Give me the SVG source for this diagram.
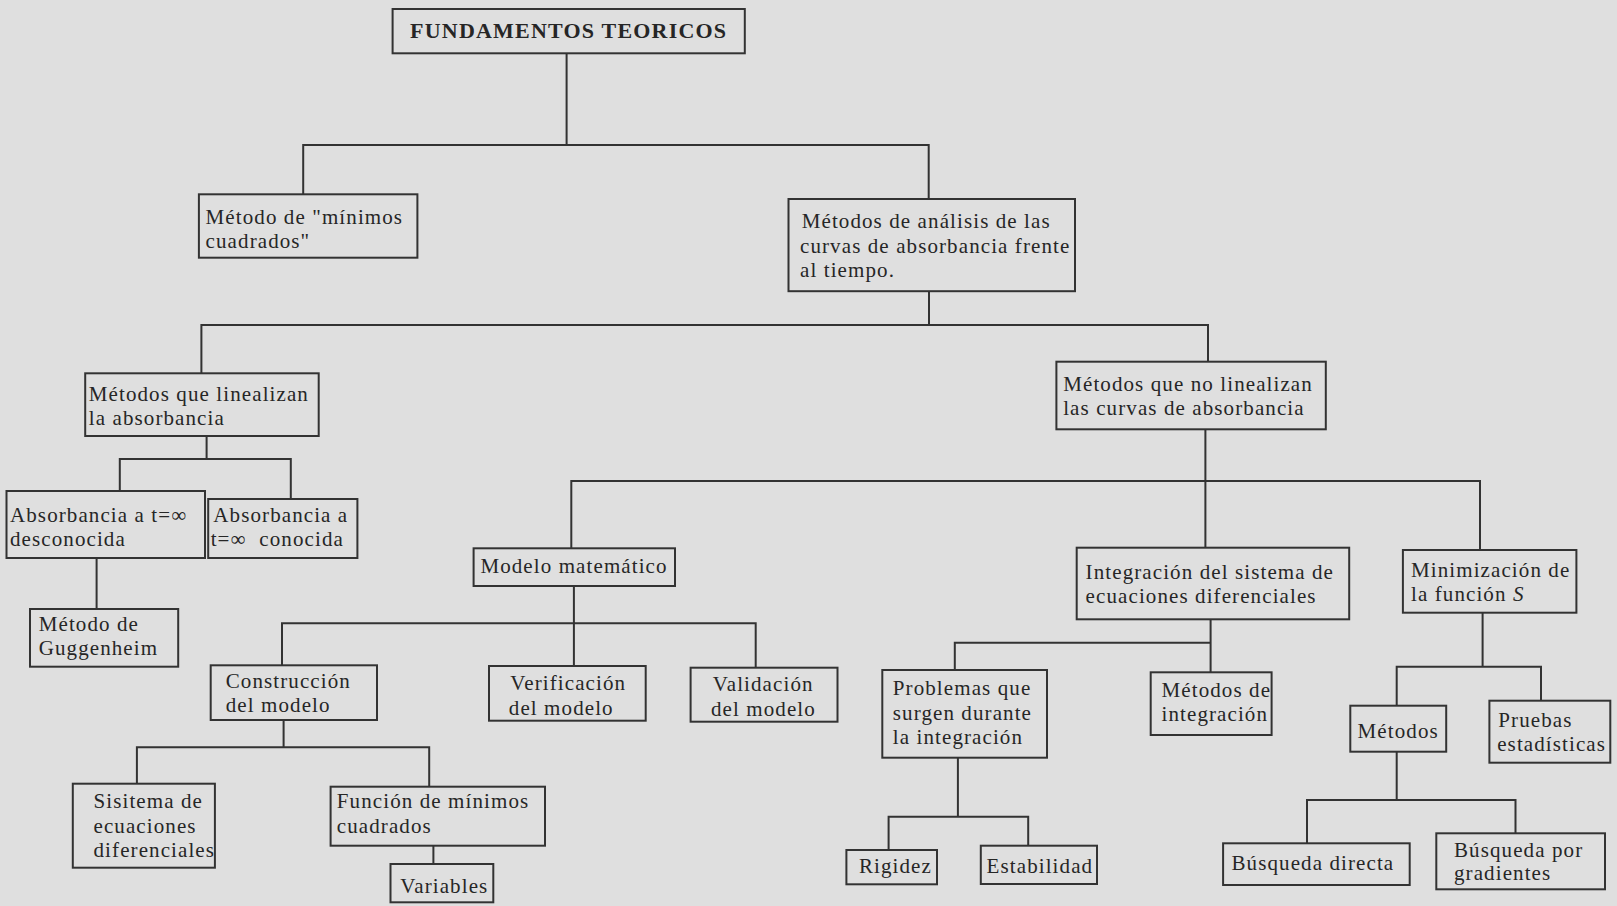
<svg xmlns="http://www.w3.org/2000/svg" width="1617" height="906" viewBox="0 0 1617 906">
  <style>
    .box { fill: none; stroke: #333; stroke-width: 2; }
    .lbl { font-family: "Liberation Serif", "Times New Roman", serif; font-size: 21px; fill: #262626; letter-spacing: 1.1px; }
    .title { font-family: "Liberation Serif", "Times New Roman", serif; font-size: 22px; font-weight: bold; fill: #262626; letter-spacing: 1.2px; }
    .wire { fill: none; stroke: #333; stroke-width: 2; }
  </style>
  <rect width="1617" height="906" fill="#dfdfdf"/>

  <!-- tree connectors -->
  <g id="connectors">
    <path class="wire" d="M566.6 53.3V145 M303.2 194.3V145H928.7V199"/>
    <path class="wire" d="M929 291.2V325 M201.4 373.3V325H1208V361.7"/>
    <path class="wire" d="M206.6 436V459 M119.8 491V459H290.8V499"/>
    <path class="wire" d="M96.6 558V609"/>
    <path class="wire" d="M1205.4 429.3V547.7 M571.3 548.3V481H1480V550"/>
    <path class="wire" d="M573.9 586V666 M282 665.3V623.3H755.7V667.7"/>
    <path class="wire" d="M283.6 720V747.3 M136.9 783.7V747.3H429.2V786.7"/>
    <path class="wire" d="M433.4 845.7V864"/>
    <path class="wire" d="M1210.6 619.3V672.3 M954.8 670V642.7H1210.6"/>
    <path class="wire" d="M957.9 757.7V816.7 M888.6 850V816.7H1028.2V845.7"/>
    <path class="wire" d="M1482.6 612.7V666.7 M1396.7 705.7V666.7H1541V700.7"/>
    <path class="wire" d="M1396.7 751.7V800 M1307 843.3V800H1515.5V833.3"/>
  </g>

  <g id="fundamentos">
    <rect class="box" x="392.6" y="9" width="352.2" height="44.3"/>
    <text class="title" x="568.7" y="38" text-anchor="middle">FUNDAMENTOS TEORICOS</text>
  </g>

  <g id="minimos-cuadrados">
    <rect class="box" x="198.9" y="194.3" width="218.5" height="63.4"/>
    <text class="lbl"><tspan x="205.6" y="224">Método de "mínimos</tspan><tspan x="205.6" y="248">cuadrados"</tspan></text>
  </g>

  <g id="analisis-curvas">
    <rect class="box" x="788.5" y="199" width="286.5" height="92.2"/>
    <text class="lbl"><tspan x="801.7" y="228.3">Métodos de análisis de las</tspan><tspan x="800" y="252.5">curvas de absorbancia frente</tspan><tspan x="800" y="276.7">al tiempo.</tspan></text>
  </g>

  <g id="linealizan">
    <rect class="box" x="85.2" y="373.3" width="233.5" height="62.7"/>
    <text class="lbl"><tspan x="88.8" y="401">Métodos que linealizan</tspan><tspan x="88.8" y="425">la absorbancia</tspan></text>
  </g>

  <g id="no-linealizan">
    <rect class="box" x="1056.4" y="361.7" width="269.4" height="67.6"/>
    <text class="lbl"><tspan x="1063.2" y="391">Métodos que no linealizan</tspan><tspan x="1063.2" y="415">las curvas de absorbancia</tspan></text>
  </g>

  <g id="abs-desconocida">
    <rect class="box" x="6.5" y="491" width="198.5" height="67"/>
    <text class="lbl"><tspan x="10" y="522">Absorbancia a t=∞</tspan><tspan x="10" y="546">desconocida</tspan></text>
  </g>

  <g id="abs-conocida">
    <rect class="box" x="208.2" y="499" width="149.2" height="59"/>
    <text class="lbl" xml:space="preserve"><tspan x="213.3" y="522">Absorbancia a</tspan><tspan x="210.7" y="546">t=∞  conocida</tspan></text>
  </g>

  <g id="guggenheim">
    <rect class="box" x="30" y="609" width="148.2" height="57.7"/>
    <text class="lbl"><tspan x="38.7" y="631">Método de</tspan><tspan x="38.7" y="655">Guggenheim</tspan></text>
  </g>

  <g id="modelo-matematico">
    <rect class="box" x="473.6" y="548.3" width="201.4" height="37.7"/>
    <text class="lbl" x="480.4" y="573">Modelo matemático</text>
  </g>

  <g id="integracion-sistema">
    <rect class="box" x="1076.7" y="547.7" width="272.5" height="71.6"/>
    <text class="lbl"><tspan x="1085.6" y="579">Integración del sistema de</tspan><tspan x="1085.6" y="603">ecuaciones diferenciales</tspan></text>
  </g>

  <g id="minimizacion">
    <rect class="box" x="1402.9" y="550" width="173.5" height="62.7"/>
    <text class="lbl"><tspan x="1411" y="577">Minimización de</tspan><tspan x="1411" y="601">la función <tspan font-style="italic">S</tspan></tspan></text>
  </g>

  <g id="construccion">
    <rect class="box" x="210.7" y="665.3" width="166.3" height="54.7"/>
    <text class="lbl"><tspan x="225.7" y="688">Construcción</tspan><tspan x="225.7" y="712">del modelo</tspan></text>
  </g>

  <g id="verificacion">
    <rect class="box" x="489" y="666" width="156.7" height="54.7"/>
    <text class="lbl"><tspan x="510.3" y="690">Verificación</tspan><tspan x="508.8" y="715">del modelo</tspan></text>
  </g>

  <g id="validacion">
    <rect class="box" x="690.6" y="667.7" width="146.9" height="54"/>
    <text class="lbl"><tspan x="712.8" y="691">Validación</tspan><tspan x="711" y="716">del modelo</tspan></text>
  </g>

  <g id="problemas">
    <rect class="box" x="882.3" y="670" width="164.7" height="87.7"/>
    <text class="lbl"><tspan x="892.8" y="695">Problemas que</tspan><tspan x="892.8" y="720">surgen durante</tspan><tspan x="892.8" y="744">la integración</tspan></text>
  </g>

  <g id="metodos-integracion">
    <rect class="box" x="1150.7" y="672.3" width="120.9" height="62.7"/>
    <text class="lbl"><tspan x="1161.5" y="697">Métodos de</tspan><tspan x="1161.5" y="721">integración</tspan></text>
  </g>

  <g id="metodos">
    <rect class="box" x="1350.3" y="705.7" width="95.9" height="46"/>
    <text class="lbl" x="1357.6" y="738">Métodos</text>
  </g>

  <g id="pruebas">
    <rect class="box" x="1489.4" y="700.7" width="120.9" height="62"/>
    <text class="lbl"><tspan x="1498.3" y="727">Pruebas</tspan><tspan x="1497.2" y="751">estadísticas</tspan></text>
  </g>

  <g id="sistema-ecuaciones">
    <rect class="box" x="72.8" y="783.7" width="142.1" height="84"/>
    <text class="lbl"><tspan x="93.5" y="808.3">Sisitema de</tspan><tspan x="93.5" y="832.7">ecuaciones</tspan><tspan x="93.5" y="856.7">diferenciales</tspan></text>
  </g>

  <g id="funcion-minimos">
    <rect class="box" x="330.6" y="786.7" width="214.4" height="59"/>
    <text class="lbl"><tspan x="336.8" y="808.3">Función de mínimos</tspan><tspan x="336.8" y="832.7">cuadrados</tspan></text>
  </g>

  <g id="variables">
    <rect class="box" x="390.5" y="864" width="102.8" height="38.3"/>
    <text class="lbl" x="400.3" y="892.5">Variables</text>
  </g>

  <g id="rigidez">
    <rect class="box" x="846.4" y="850" width="90.6" height="34.3"/>
    <text class="lbl" x="858.9" y="872.5">Rigidez</text>
  </g>

  <g id="estabilidad">
    <rect class="box" x="980.8" y="845.7" width="116.2" height="38.3"/>
    <text class="lbl" x="986.6" y="873">Estabilidad</text>
  </g>

  <g id="busqueda-directa">
    <rect class="box" x="1223.1" y="843.3" width="186.6" height="41.7"/>
    <text class="lbl" x="1231.5" y="870">Búsqueda directa</text>
  </g>

  <g id="busqueda-gradientes">
    <rect class="box" x="1436.3" y="833.3" width="168.7" height="56"/>
    <text class="lbl"><tspan x="1454" y="857">Búsqueda por</tspan><tspan x="1454" y="880">gradientes</tspan></text>
  </g>
</svg>
